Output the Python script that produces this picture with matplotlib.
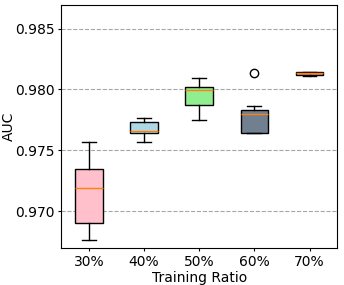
import matplotlib
matplotlib.use("Agg")
from matplotlib import pyplot as plt

labels = ["30%", "40%", "50%", "60%", "70%"]
colors = ["pink", "lightblue", "lightgreen", "slategray", "lightcoral"]

# box stats: whislo, q1, med, q3, whishi, outliers
whislo = [0.96762, 0.97568, 0.97751, 0.97642, 0.98110]
q1 = [0.96904, 0.97639, 0.97872, 0.97642, 0.98121]
med = [0.97188, 0.97661, 0.97992, 0.97798, 0.98131]
q3 = [0.97350, 0.97729, 0.98020, 0.97831, 0.98145]
whishi = [0.97571, 0.97762, 0.98090, 0.97860, 0.98145]
fliers = [[], [], [], [0.98131], []]

stats = []
for i, lab in enumerate(labels):
    stats.append({
        'label': lab,
        'whislo': whislo[i],
        'q1': q1[i],
        'med': med[i],
        'q3': q3[i],
        'whishi': whishi[i],
        'fliers': fliers[i],
    })

fig = plt.figure(figsize=(3.44, 2.85), dpi=100)
ax = fig.add_axes([0.178, 0.129, 0.802, 0.855])

bp = ax.bxp(stats, patch_artist=True, widths=0.5)
for patch, c in zip(bp['boxes'], colors):
    patch.set_facecolor(c)
    patch.set_edgecolor('black')

ax.yaxis.grid(True, linestyle='--', color='gray', alpha=0.7)
ax.set_axisbelow(True)
ax.set_ylim(0.96696, 0.98697)
ax.set_yticks([0.970, 0.975, 0.980, 0.985])
ax.tick_params(length=2.5, pad=2.5)
ax.set_xlabel("Training Ratio", labelpad=1)
ax.set_ylabel("AUC", labelpad=-1)

plt.savefig("out.png", dpi=100)
